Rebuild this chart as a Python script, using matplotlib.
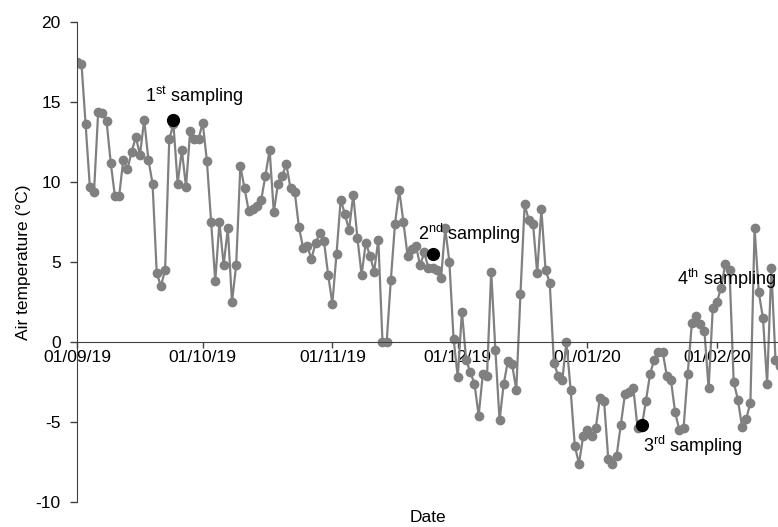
import pandas as pd
import matplotlib
import matplotlib.pyplot as plt
import matplotlib.dates as mdates
matplotlib.use("Agg")

plt.rcParams['font.family'] = ['Liberation Sans', 'DejaVu Sans']
plt.rcParams['mathtext.fontset'] = 'custom'
plt.rcParams['mathtext.rm'] = 'Liberation Sans'
plt.rcParams['axes.unicode_minus'] = False

# Daily mean air temperature from 1 Sep 2019
start = "2019-09-01"
temp_sep = [17.5, 17.4, 13.6, 9.7, 9.4, 14.4, 14.3, 13.8, 11.2, 9.1,
            9.1, 11.4, 10.8, 11.9, 12.8, 11.7, 13.9, 11.4, 9.9, 4.3,
            3.5, 4.5, 12.7, 13.6, 9.9, 12.0, 9.7, 13.2, 12.7, 12.7]
temp_oct = [13.7, 11.3, 7.5, 3.8, 7.5, 4.8, 7.1, 2.5, 4.8, 11.0,
            9.6, 8.2, 8.3, 8.5, 8.9, 10.4, 12.0, 8.1, 9.9, 10.4,
            11.1, 9.6, 9.4, 7.2, 5.9, 6.0, 5.2, 6.2, 6.8, 6.3,
            4.2]
temp_nov = [2.4, 5.5, 8.9, 8.0, 7.0, 9.2, 6.5, 4.2, 6.2, 5.4,
            4.4, 6.4, 0.0, 0.0, 3.9, 7.4, 9.5, 7.5, 5.4, 5.8,
            6.0, 4.8, 5.6, 4.6, 4.6, 4.5, 4.0, 7.1, 5.0, 0.2]
temp_dec = [-2.2, 1.9, -1.1, -1.9, -2.6, -4.6, -2.0, -2.1, 4.4, -0.5,
            -4.9, -2.6, -1.2, -1.4, -3.0, 3.0, 8.6, 7.6, 7.4, 4.3,
            8.3, 4.5, 3.7, -1.3, -2.1, -2.4, 0.0, -3.0, -6.5, -7.6,
            -5.9]
temp_jan = [-5.5, -5.9, -5.4, -3.5, -3.7, -7.3, -7.6, -7.1, -5.2, -3.25,
            -3.1, -2.9, -5.35, -5.3, -3.7, -2.0, -1.1, -0.6, -0.6, -2.1,
            -2.4, -4.4, -5.5, -5.4, -2.0, 1.2, 1.6, 1.1, 0.7, -2.9,
            2.1]
temp_feb = [2.5, 3.4, 4.9, 4.5, -2.5, -3.6, -5.3, -4.8, -3.8, 7.1,
            3.1, 1.5, -2.6, 4.6, -1.1, -1.5]

# Sampling campaigns
sample_dates = ["2019-09-24", "2019-11-25", "2020-01-14"]
sample_temps = [13.9, 5.5, -5.2]

temps = temp_sep + temp_oct + temp_nov + temp_dec + temp_jan + temp_feb
dates = pd.date_range(start, periods=len(temps), freq="D")

fig = plt.figure(figsize=(7.78, 5.27), dpi=100)
ax = fig.add_axes([77.3 / 778, 1 - 502 / 527, 1 - 77.3 / 778, 480 / 527])

grey = "#808080"
ax.plot(dates, temps, color=grey, lw=1.6, marker="o", ms=6,
        markerfacecolor=grey, markeredgecolor=grey, zorder=2)
ax.plot(pd.to_datetime(sample_dates), sample_temps, "o", color="black",
        ms=8.5, zorder=3)

# labels for the sampling dots
t0 = pd.Timestamp(start)
day = pd.Timedelta(days=1)
fs = 12.5
afs = 13
ax.text(t0 + 16.2 * day, 15.0, r"1$^{\mathrm{st}}$ sampling", fontsize=afs,
        va="baseline", ha="left")
ax.text(t0 + 81.4 * day, 6.4, r"2$^{\mathrm{nd}}$ sampling", fontsize=afs,
        va="baseline", ha="left")
ax.text(t0 + 135.3 * day, -6.85, r"3$^{\mathrm{rd}}$ sampling", fontsize=afs,
        va="baseline", ha="left")
ax.text(t0 + 143.4 * day, 3.56, r"4$^{\mathrm{th}}$ sampling", fontsize=afs,
        va="baseline", ha="left", clip_on=False)

ax.set_xlim(t0, t0 + 167.6 * day)
ax.set_ylim(-10, 20)
ax.set_yticks(range(-10, 21, 5))

ax.xaxis.set_major_locator(mdates.MonthLocator())
ax.xaxis.set_major_formatter(mdates.DateFormatter("%d/%m/%y"))

for side in ["top", "right"]:
    ax.spines[side].set_visible(False)
ax.spines["bottom"].set_position(("data", 0))
ax.spines["bottom"].set_color("#404040")
ax.spines["left"].set_color("#404040")

ax.tick_params(axis="y", direction="out", length=5, width=1, pad=7,
               colors="#404040", labelcolor="black", labelsize=fs)
ax.tick_params(axis="x", direction="out", length=4, width=1, pad=2,
               colors="#404040", labelcolor="black", labelsize=fs)

ax.set_ylabel("Air temperature (\u00b0C)", fontsize=fs, labelpad=3)
ax.set_xlabel("Date", fontsize=fs)
ax.xaxis.label.set_va("center")
ax.xaxis.set_label_coords(0.5, -0.033)

fig.savefig("out.png", dpi=100)
